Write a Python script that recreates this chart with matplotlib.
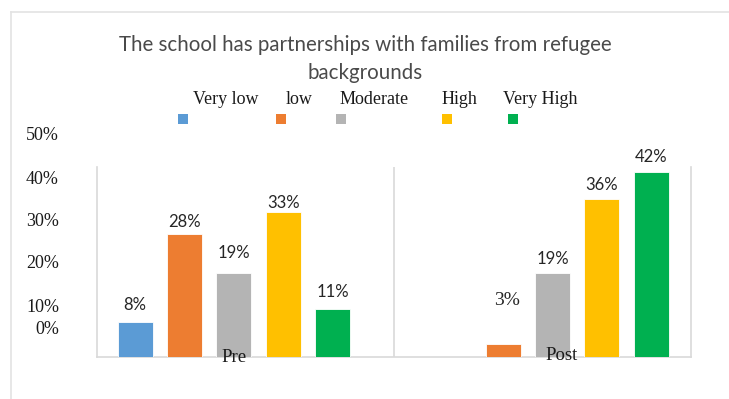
import matplotlib
matplotlib.use("Agg")
import matplotlib.pyplot as plt
from matplotlib.lines import Line2D
from matplotlib.patches import Rectangle
import numpy as np

# Survey responses (% of respondents) before and after
title = "The school has partnerships with families from refugee\nbackgrounds"
groups = ["Pre", "Post"]
levels = ["Very low", "low", "Moderate", "High", "Very High"]
colors = ["#5B9BD5", "#ED7D31", "#B4B4B4", "#FFC000", "#00B050"]
pre_values = [8, 28, 19, 33, 11]
post_values = [0, 3, 19, 36, 42]
pre_labels = ["8%", "28%", "19%", "33%", "11%"]
post_labels = ["", "3%", "19%", "36%", "42%"]
ytick_labels = ["50%", "40%", "30%", "20%", "10%", "0%"]

W, H = 729, 399
fig = plt.figure(figsize=(W / 100, H / 100), dpi=100)
fig.patch.set_facecolor("white")

def fx(px):
    return px / W

def fy(py):
    return 1 - py / H

SERIF = ["Liberation Serif", "DejaVu Serif"]
SANS = ["Lato", "DejaVu Sans"]
GRID = "#D9D9D9"

# outer chart border (left and top edges)
fig.add_artist(Line2D([fx(11), fx(11)], [fy(12), 0], color="#E3E3E3", lw=1.2,
                      transform=fig.transFigure))
fig.add_artist(Line2D([fx(11), 1], [fy(12), fy(12)], color="#E3E3E3", lw=1.2,
                      transform=fig.transFigure))

ax = fig.add_axes([fx(97), fy(357), fx(691) - fx(97), (357 - 167) / H])
ax.set_xlim(-0.430, 1.435)
ax.set_ylim(0, 43.2)

width = 0.110
pitch = 0.155
x = np.arange(len(groups))
offsets = (np.arange(len(levels)) - 2) * pitch
for i, (lvl, c) in enumerate(zip(levels, colors)):
    vals = [pre_values[i], post_values[i]]
    ax.bar(x + offsets[i], vals, width=width, color=c, edgecolor="white",
           linewidth=0.6, zorder=3)

# value labels above the bars (vertical gaps in pixels)
pre_gap = [17, 12, 20, 9, 17]
post_gap = [0, 43, 14, 14, 15]
for i in range(len(levels)):
    ax.annotate(pre_labels[i], xy=(x[0] + offsets[i], pre_values[i]),
                xytext=(0, pre_gap[i]), textcoords="offset pixels",
                ha="center", va="center", fontsize=12, family=SANS,
                color="#262626")
    if post_labels[i]:
        fam = SERIF if post_labels[i] == "3%" else SANS
        ax.annotate(post_labels[i], xy=(x[1] + offsets[i], post_values[i]),
                    xytext=(4 if fam is SERIF else 0, post_gap[i]),
                    textcoords="offset pixels",
                    ha="center", va="center", fontsize=14 if fam is SERIF else 12,
                    family=fam, color="#262626")

# plot area frame and category divider
for s in ["left", "right", "bottom"]:
    ax.spines[s].set_color(GRID)
    ax.spines[s].set_linewidth(1.2)
ax.spines["top"].set_visible(False)
ax.axvline(0.502, color=GRID, lw=1.2, zorder=1)
ax.set_xticks([])
ax.set_yticks([])

# category names sit on the baseline
fig.text(fx(234), fy(358), groups[0], ha="center", va="center",
         fontsize=13.5, family=SERIF, color="#1a1a1a")
fig.text(fx(562), fy(356), groups[1], ha="center", va="center",
         fontsize=13.5, family=SERIF, color="#1a1a1a")

# percentage scale on the left
ytick_y = [135, 179, 221, 264, 307, 329]
for lab, py in zip(ytick_labels, ytick_y):
    fig.text(fx(59), fy(py), lab, ha="right", va="center", fontsize=13,
             family=SERIF, color="#1a1a1a")

# title
fig.text(fx(365), fy(45), title.split("\n")[0], ha="center", va="center",
         fontsize=14.8, family=SANS, color="#4a4a4a")
fig.text(fx(365), fy(73), title.split("\n")[1], ha="center", va="center",
         fontsize=14.8, family=SANS, color="#4a4a4a")

# legend: names on one row, swatches beneath
name_x = [226, 299, 374, 459, 540]
swatch_x = [183, 281, 341, 447, 513]
for lvl, c, nx, sx in zip(levels, colors, name_x, swatch_x):
    fig.text(fx(nx), fy(99), lvl, ha="center", va="center", fontsize=13,
             family=SERIF, color="#1a1a1a")
    fig.add_artist(Rectangle((fx(sx - 5), fy(124)), fx(10), 10 / H,
                             facecolor=c, edgecolor="none",
                             transform=fig.transFigure))

fig.savefig("out.png", dpi=100, facecolor="white")
